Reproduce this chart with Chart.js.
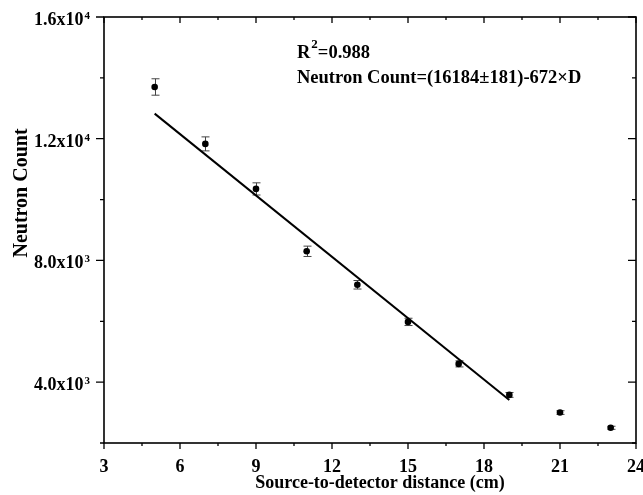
<!DOCTYPE html>
<html>
<head>
<meta charset="utf-8">
<script src="https://cdn.jsdelivr.net/npm/chart.js@4.4.1/dist/chart.umd.min.js"></script>
<style>
  html, body { margin: 0; padding: 0; background: #fff; }
</style>
</head>
<body>
<canvas id="canvas" width="643" height="495"></canvas>
<script>
// measured points (distance in cm, neutron count, error)
const distances = [5, 7, 9, 11, 13, 15, 17, 19, 21, 23];
const counts = [13700, 11830, 10350, 8300, 7200, 5980, 4600, 3580, 3000, 2500];
const countErrors = [270, 230, 200, 170, 140, 120, 100, 80, 60, 50];

// linear fit end points
const fitX = [5, 19];
const fitY = [12824, 3416];

// axis ticks
const xTicks = [3, 6, 9, 12, 15, 18, 21, 24];
const xMinorTicks = [4.5, 7.5, 10.5, 13.5, 16.5, 19.5, 22.5];
const yTicks = [4000, 8000, 12000, 16000];
const yTickMantissa = ["4.0", "8.0", "1.2", "1.6"];
const yTickExponent = ["3", "3", "4", "4"];
const yMinorTicks = [2000, 6000, 10000, 14000];

const xTitle = "Source-to-detector distance (cm)";
const yTitle = "Neutron Count";
const r2Text = "=0.988";
const fitText = "Neutron Count=(16184\u00b1181)-672\u00d7D";

const FONT = "'Liberation Serif', 'Times New Roman', serif";

// error bars go under the dots
const errorBars = {
  id: 'errorBars',
  beforeDatasetsDraw: (chart) => {
    const {ctx, scales: {x, y}} = chart;
    ctx.save();
    ctx.strokeStyle = "#444";
    ctx.lineWidth = 1;
    distances.forEach((d, i) => {
      const px = Math.round(x.getPixelForValue(d)) + 0.5;
      const top = y.getPixelForValue(counts[i] + countErrors[i]);
      const bot = y.getPixelForValue(counts[i] - countErrors[i]);
      ctx.beginPath();
      ctx.moveTo(px, top); ctx.lineTo(px, bot);
      ctx.moveTo(px - 4, top); ctx.lineTo(px + 4, top);
      ctx.moveTo(px - 4, bot); ctx.lineTo(px + 4, bot);
      ctx.stroke();
    });
    ctx.restore();
  }
};

// frame, mirrored ticks, labels with exponents, titles, fit text
const frame = {
  id: 'frame',
  afterDraw: (chart) => {
    const {ctx, chartArea: a, scales: {x, y}} = chart;
    ctx.save();
    ctx.strokeStyle = "#000";
    ctx.lineWidth = 1.6;
    ctx.strokeRect(a.left, a.top, a.right - a.left, a.bottom - a.top);

    ctx.lineWidth = 1.3;
    ctx.beginPath();
    xTicks.forEach((v) => {
      const px = x.getPixelForValue(v);
      ctx.moveTo(px, a.bottom); ctx.lineTo(px, a.bottom + 6);
      ctx.moveTo(px, a.top); ctx.lineTo(px, a.top + 6);
    });
    xMinorTicks.forEach((v) => {
      const px = x.getPixelForValue(v);
      ctx.moveTo(px, a.bottom); ctx.lineTo(px, a.bottom + 3);
      ctx.moveTo(px, a.top); ctx.lineTo(px, a.top + 3);
    });
    yTicks.forEach((v) => {
      const py = y.getPixelForValue(v);
      ctx.moveTo(a.left, py); ctx.lineTo(a.left - 8, py);
      ctx.moveTo(a.right, py); ctx.lineTo(a.right - 8, py);
    });
    yMinorTicks.forEach((v) => {
      const py = y.getPixelForValue(v);
      ctx.moveTo(a.left, py); ctx.lineTo(a.left - 4, py);
      ctx.moveTo(a.right, py); ctx.lineTo(a.right - 4, py);
    });
    ctx.stroke();

    ctx.fillStyle = "#000";
    // x tick labels
    ctx.font = "bold 18px " + FONT;
    ctx.textAlign = "center";
    ctx.textBaseline = "alphabetic";
    xTicks.forEach((v) => {
      ctx.fillText(String(v), x.getPixelForValue(v), a.bottom + 29);
    });

    // y tick labels, mantissa x 10 + raised exponent
    yTicks.forEach((v, i) => {
      const py = y.getPixelForValue(v);
      const right = a.left - 14;
      ctx.textAlign = "right";
      ctx.font = "bold 11px " + FONT;
      const ew = ctx.measureText(yTickExponent[i]).width;
      ctx.fillText(yTickExponent[i], right, py + 2);
      ctx.font = "bold 18px " + FONT;
      ctx.fillText(yTickMantissa[i] + "x10", right - ew - 1, py + 8);
    });

    // axis titles
    ctx.font = "bold 18px " + FONT;
    ctx.textAlign = "center";
    ctx.fillText(xTitle, 380, 488);
    ctx.save();
    ctx.translate(27, 193);
    ctx.rotate(-Math.PI / 2);
    ctx.font = "bold 20px " + FONT;
    ctx.fillText(yTitle, 0, 0);
    ctx.restore();

    // fit annotation
    ctx.textAlign = "left";
    ctx.font = "bold 18.5px " + FONT;
    ctx.fillText("R", 297, 58);
    const rw = ctx.measureText("R").width;
    ctx.font = "bold 13px " + FONT;
    ctx.fillText("2", 297 + rw + 1, 48);
    const sw = ctx.measureText("2").width;
    ctx.font = "bold 18.5px " + FONT;
    ctx.fillText(r2Text, 297 + rw + sw + 1, 58);
    ctx.fillText(fitText, 297, 83);
    ctx.restore();
  }
};

const chart = new Chart(document.getElementById("canvas").getContext("2d"), {
  type: 'scatter',
  data: {
    datasets: [{
      label: 'Neutron Count',
      data: distances.map((d, i) => ({x: d, y: counts[i]})),
      backgroundColor: "#000",
      borderColor: "#000",
      pointRadius: 3.3,
      pointBorderWidth: 0
    }, {
      type: 'line',
      label: 'Fit',
      data: fitX.map((d, i) => ({x: d, y: fitY[i]})),
      borderColor: "#000",
      borderWidth: 2,
      pointRadius: 0,
      fill: false
    }]
  },
  options: {
    responsive: false,
    animation: false,
    events: [],
    layout: {
      padding: {left: 0, top: 17, right: 7, bottom: 0}
    },
    plugins: {
      legend: {display: false},
      tooltip: {enabled: false}
    },
    scales: {
      x: {
        type: 'linear',
        min: 3,
        max: 24,
        grid: {display: false},
        border: {display: false},
        ticks: {display: false},
        afterFit: (s) => { s.height = 52; }
      },
      y: {
        type: 'linear',
        min: 2000,
        max: 16000,
        grid: {display: false},
        border: {display: false},
        ticks: {display: false},
        afterFit: (s) => { s.width = 104; }
      }
    }
  },
  plugins: [errorBars, frame]
});
</script>
</body>
</html>
